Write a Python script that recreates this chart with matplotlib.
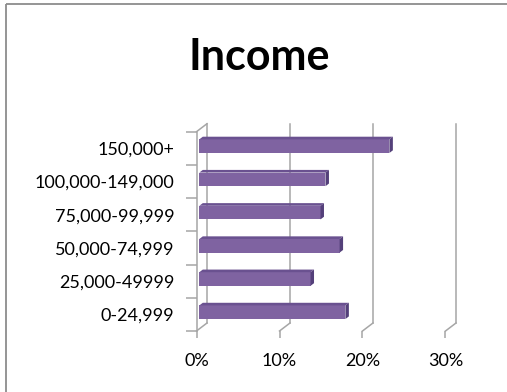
import matplotlib.pyplot as plt
from matplotlib.lines import Line2D
from matplotlib.patches import Polygon

plt.rcParams['font.family'] = ['Lato', 'DejaVu Sans']

categories = ['0-24,999', '25,000-49999', '50,000-74,999',
              '75,000-99,999', '100,000-149,000', '150,000+']
percent = [17.6, 13.4, 16.9, 14.6, 15.2, 22.9]
x_ticks = [0, 10, 20, 30]
x_labels = ['0%', '10%', '20%', '30%']

W, H = 507, 392
fig = plt.figure(figsize=(W / 100, H / 100), dpi=100)

# front plane of the pseudo-3d plot area, in pixels
left_px, right_px = 196.5, 445.5
top_px, bottom_px = 131.7, 331.0
ax = fig.add_axes([left_px / W, 1 - bottom_px / H,
                   (right_px - left_px) / W, (bottom_px - top_px) / H])
ax.set_xlim(0, 30)
ax.set_ylim(-0.5, len(categories) - 0.5)

px_x = 30 / (right_px - left_px)
px_y = len(categories) / (bottom_px - top_px)
# depth vector from front plane to back wall
dx, dy = 10.5 * px_x, 8.0 * px_y

grid_col = '#a6a6a6'
lw = 1.1
y0, y1 = -0.5, len(categories) - 0.5

# back wall gridlines and floor diagonals
for v in x_ticks:
    ax.plot([v + dx, v + dx], [y0 + dy, y1 + dy], color=grid_col, lw=lw,
            zorder=1, clip_on=False)
    ax.plot([v, v + dx], [y0, y0 + dy], color=grid_col, lw=lw,
            zorder=1, clip_on=False)
# top edge of the side wall
ax.plot([0, dx], [y1, y1 + dy], color=grid_col, lw=lw, zorder=1, clip_on=False)

# bars: front face + top + right side
f0, f1 = 0.27, 0.60
h = 0.41
front_col = '#7f63a1'
top_col = '#6a5190'
side_col = '#54407a'
for i, v in enumerate(percent):
    c = i
    ax.barh(c + f0 * dy, v, height=h, left=f0 * dx, color=front_col,
            zorder=3, clip_on=False)
    top = [(f0 * dx, c + h / 2 + f0 * dy), (v + f0 * dx, c + h / 2 + f0 * dy),
           (v + f1 * dx, c + h / 2 + f1 * dy), (f1 * dx, c + h / 2 + f1 * dy)]
    side = [(v + f0 * dx, c - h / 2 + f0 * dy), (v + f0 * dx, c + h / 2 + f0 * dy),
            (v + f1 * dx, c + h / 2 + f1 * dy), (v + f1 * dx, c - h / 2 + f1 * dy)]
    ax.add_patch(Polygon(top, closed=True, color=top_col, lw=0, zorder=3,
                         clip_on=False))
    ax.add_patch(Polygon(side, closed=True, color=side_col, lw=0, zorder=3,
                         clip_on=False))

for s in ['top', 'right', 'bottom']:
    ax.spines[s].set_visible(False)
ax.spines['left'].set_color(grid_col)
ax.spines['left'].set_linewidth(lw)
ax.set_facecolor('none')

ax.set_xticks(x_ticks)
ax.set_xticklabels(x_labels)
ax.tick_params(axis='x', length=5, width=lw, color=grid_col, pad=11,
               labelsize=13, labelcolor='black')

ax.set_yticks(range(len(categories)))
ax.set_yticklabels(categories)
ax.set_yticks([k - 0.5 for k in range(len(categories) + 1)], minor=True)
ax.tick_params(axis='y', which='major', length=0, pad=16, labelsize=13,
               labelcolor='black')
ax.tick_params(axis='y', which='minor', length=8, width=lw, color=grid_col)

fig.text(259.5 / W, 1 - 70 / H, 'Income', ha='center', va='baseline',
         fontsize=31, fontweight='bold')

# chart border: only its left and top edges fall inside the image
bx, by = 5.5 / W, 1 - 3.5 / H
fig.add_artist(Line2D([bx, bx], [0, by], transform=fig.transFigure,
                      color='#8c8c8c', lw=1.3, solid_capstyle='butt'))
fig.add_artist(Line2D([bx, 1.02], [by, by], transform=fig.transFigure,
                      color='#8c8c8c', lw=1.3, solid_capstyle='butt'))

fig.savefig('out.png', dpi=100, facecolor='white')
